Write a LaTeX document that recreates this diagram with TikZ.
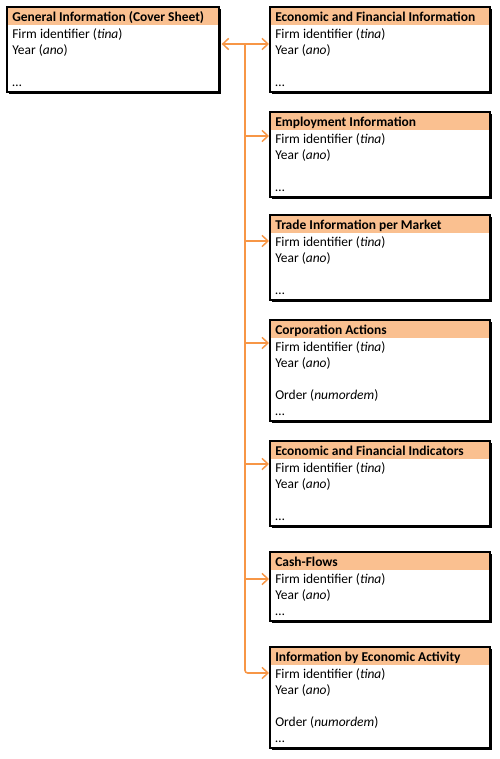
\documentclass[tikz,border=0pt]{standalone}
\usepackage{fontspec}
\setmainfont{Carlito}
\usetikzlibrary{arrows.meta,calc}
\definecolor{hdr}{HTML}{FAC090}
\definecolor{connc}{HTML}{F79646}
\newcommand\entity[7]{%
  \node[entitybox, minimum width=#4*0.75pt, minimum height={(21+16*#5)*0.75pt}] (#1) at (#2,#3) {};
  \draw[shadowline] ([shift={(0.9pt,-1.5pt)}]#1.north east) -- ([shift={(0.9pt,-0.9pt)}]#1.south east) -- ([shift={(1.5pt,-0.9pt)}]#1.south west);
  \node[ttl] (#1-t) at ([shift={(3.75pt,-10.8pt)}]#1.north west) {#6};
  \foreach \k/\s in {#7} \node[fld] (#1-\k) at ([shift={(3.75pt,{-(15.5+16*\k)*0.75pt})}]#1.north west) {\s};
}
\begin{document}
\begin{tikzpicture}[x=0.75pt,y=-0.75pt,
  entitybox/.style={draw=black, line width=0.9pt, anchor=north west, inner sep=0pt, outer sep=0pt,
     path picture={\fill[hdr] (path picture bounding box.north west) rectangle ([yshift=-13.5pt]path picture bounding box.north east);}},
  shadowline/.style={line width=1.1pt, black},
  ttl/.style={anchor=base west, inner sep=0pt, font=\fontsize{10.1}{12}\selectfont\bfseries},
  fld/.style={anchor=base west, inner sep=0pt, font=\fontsize{10.1}{12}\selectfont},
  barb/.tip={Straight Barb[length=4.5pt,width=8.5pt,line width=1.1pt]},
  conn/.style={draw=connc, line width=1.2pt, -barb},
]
\useasboundingbox (0,0) rectangle (499,759);

\entity{b0}{7}{7}{212}{4}{General Information (Cover Sheet)}{1/Firm identifier (\textit{tina}),2/Year (\textit{ano}),4/…}
\entity{b1}{270}{7}{220}{4}{Economic and Financial Information}{1/Firm identifier (\textit{tina}),2/Year (\textit{ano}),4/…}
\entity{b2}{270}{112}{220}{4}{Employment Information}{1/Firm identifier (\textit{tina}),2/Year (\textit{ano}),4/…}
\entity{b3}{270}{215}{220}{4}{Trade Information per Market}{1/Firm identifier (\textit{tina}),2/Year (\textit{ano}),4/…}
\entity{b4}{270}{320}{220}{5}{Corporation Actions}{1/Firm identifier (\textit{tina}),2/Year (\textit{ano}),4/Order (\textit{numordem}),5/…}
\entity{b5}{270}{441}{220}{4}{Economic and Financial Indicators}{1/Firm identifier (\textit{tina}),2/Year (\textit{ano}),4/…}
\entity{b6}{270}{552}{220}{3}{Cash-Flows}{1/Firm identifier (\textit{tina}),2/Year (\textit{ano}),3/…}
\entity{b7}{270}{647}{220}{5}{Information by Economic Activity}{1/Firm identifier (\textit{tina}),2/Year (\textit{ano}),4/Order (\textit{numordem}),5/…}

\coordinate (j0) at (245,44);
\coordinate (b2a) at ($(b2.north west)+(-1,24)$);
\coordinate (b3a) at ($(b3.north west)+(-1,26)$);
\coordinate (b4a) at ($(b4.north west)+(-1,23)$);
\coordinate (b5a) at ($(b5.north west)+(-1,23)$);
\coordinate (b6a) at ($(b6.north west)+(-1,27)$);
\coordinate (b7a) at ($(b7.north west)+(-1,26)$);

\draw[conn, barb-barb, shorten <=2pt] (b0.east |- j0) -- ([xshift=-0.75pt]b1.west |- j0);
\draw[conn, rounded corners=2pt] (j0) |- (b7a);
\draw[conn] (j0 |- b2a) -- (b2a);
\draw[conn] (j0 |- b3a) -- (b3a);
\draw[conn] (j0 |- b4a) -- (b4a);
\draw[conn] (j0 |- b5a) -- (b5a);
\draw[conn] (j0 |- b6a) -- (b6a);
\end{tikzpicture}
\end{document}
